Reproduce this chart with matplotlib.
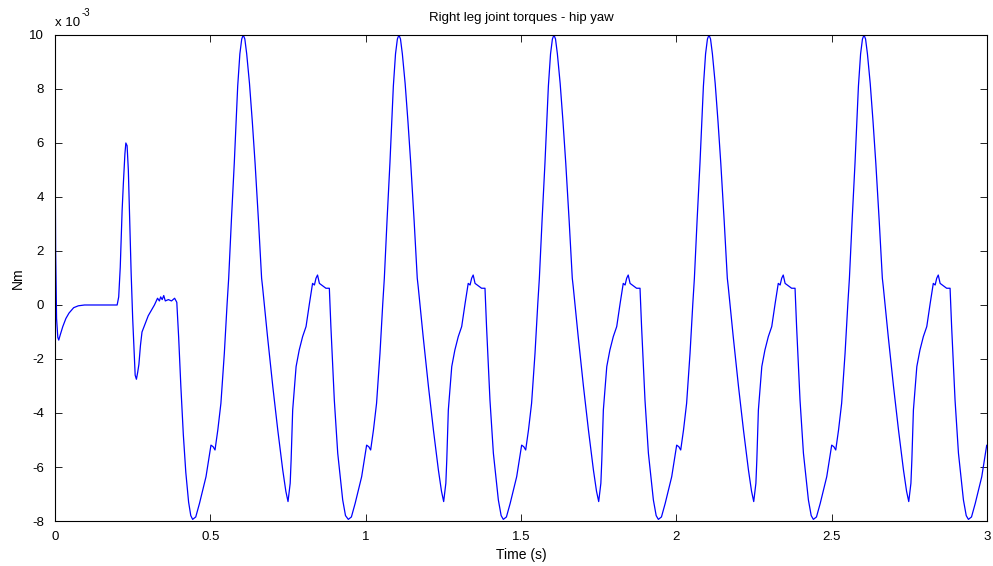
import numpy as np
import matplotlib
matplotlib.use('Agg')
import matplotlib.pyplot as plt

# start-up part of the signal (t in s, torque in 1e-3 Nm)
start_t = [0.000, 0.002, 0.005, 0.009, 0.012, 0.017, 0.025, 0.035, 0.045, 0.060,
           0.075, 0.095, 0.200, 0.205, 0.210, 0.216, 0.220, 0.225, 0.228, 0.232,
           0.236, 0.240, 0.245, 0.250, 0.255, 0.258, 0.262, 0.266, 0.270, 0.275,
           0.280, 0.290, 0.300, 0.310, 0.320, 0.330, 0.336, 0.340, 0.345, 0.350,
           0.355, 0.365, 0.375, 0.385, 0.392, 0.398, 0.405, 0.413, 0.421, 0.430,
           0.437]
start_v = [6.6, 2.0, -0.5, -1.2, -1.3, -1.1, -0.8, -0.5, -0.3, -0.1,
           -0.03, 0.0, 0.0, 0.3, 1.4, 3.5, 4.5, 5.6, 6.0, 5.9,
           5.0, 3.3, 1.2, -0.5, -1.8, -2.6, -2.75, -2.5, -2.2, -1.5,
           -1.0, -0.7, -0.4, -0.2, 0.0, 0.25, 0.15, 0.3, 0.2, 0.35,
           0.15, 0.2, 0.15, 0.25, 0.1, -1.2, -3.0, -4.8, -6.2, -7.3,
           -7.8]

# one gait cycle, time measured from its minimum
cycle_phase = [0.000, 0.010, 0.022, 0.043, 0.053, 0.059, 0.066, 0.072, 0.081, 0.091,
               0.102, 0.111, 0.116, 0.125, 0.134, 0.145, 0.152, 0.158, 0.163, 0.168,
               0.174, 0.183, 0.192, 0.201, 0.212, 0.222, 0.225, 0.241, 0.258, 0.274,
               0.290, 0.300, 0.307, 0.314, 0.317, 0.322, 0.333, 0.343, 0.354, 0.365,
               0.376, 0.386, 0.392, 0.397, 0.402, 0.408, 0.415, 0.429, 0.440, 0.445,
               0.456, 0.467, 0.483, 0.492]
cycle_v = [-7.94, -7.85, -7.35, -6.36, -5.62, -5.19, -5.25, -5.37, -4.63, -3.64,
           -1.79, 0.06, 0.99, 3.2, 5.25, 8.1, 9.3, 9.85, 10.0, 9.85,
           9.3, 8.2, 6.8, 5.25, 3.1, 0.99, 0.68, -1.17, -3.02, -4.63,
           -6.11, -6.9, -7.28, -6.6, -5.74, -3.89, -2.28, -1.67, -1.17, -0.80,
           0.06, 0.8, 0.74, 0.99, 1.11, 0.8, 0.74, 0.62, 0.62, -0.8,
           -3.52, -5.49, -7.22, -7.8]

# times of the cycle minima
cycle_min_t = [0.443, 0.944, 1.443, 1.942, 2.441, 2.940]

t = list(start_t)
v = list(start_v)
for t0 in cycle_min_t:
    t += [t0 + p for p in cycle_phase]
    v += cycle_v
t = np.array(t)
v = np.array(v)

plt.rcParams['font.family'] = ['Liberation Sans', 'DejaVu Sans']
plt.rcParams['axes.unicode_minus'] = False
fig = plt.figure(figsize=(9.93, 5.66), dpi=100)
ax = fig.add_axes([0.0554, 0.0795, 0.9386, 0.8587])
ax.plot(t, v, color='#0000ff', linewidth=0.9)

ax.set_xlim(0, 3)
ax.set_ylim(-8, 10)
ax.set_xticks([0, 0.5, 1, 1.5, 2, 2.5, 3])
ax.set_xticklabels(['0', '0.5', '1', '1.5', '2', '2.5', '3'])
ax.set_yticks(range(-8, 11, 2))
ax.tick_params(direction='in', top=True, right=True, labelsize=9.5, length=5, width=0.6)
ax.tick_params(axis='x', pad=7)
ax.tick_params(axis='y', pad=8)
for s in ax.spines.values():
    s.set_linewidth(0.8)

ax.set_title('Right leg joint torques - hip yaw', fontsize=9.5, pad=10)
ax.set_xlabel('Time (s)', fontsize=10, labelpad=4)
ax.set_ylabel('Nm', fontsize=10, labelpad=3)
ax.text(0.0, 1.012, 'x 10', transform=ax.transAxes,
        fontsize=9.5, ha='left', va='bottom')
ax.text(0.0285, 1.035, '-3', transform=ax.transAxes,
        fontsize=7, ha='left', va='bottom')

fig.savefig('out.png', dpi=100)
